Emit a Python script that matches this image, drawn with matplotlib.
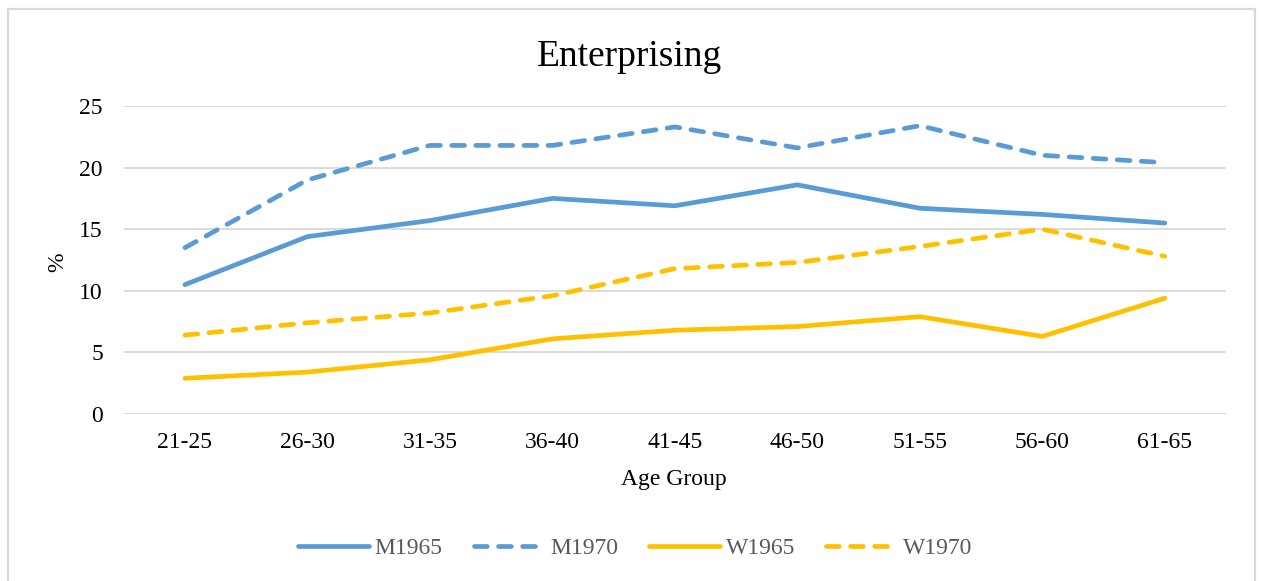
import matplotlib
matplotlib.use("Agg")
import matplotlib.pyplot as plt
from matplotlib.patches import Rectangle

# Share of people with an "Enterprising" profile, by age group
age_groups = ["21-25", "26-30", "31-35", "36-40", "41-45", "46-50", "51-55", "56-60", "61-65"]
m1965 = [10.5, 14.4, 15.7, 17.5, 16.9, 18.6, 16.7, 16.2, 15.5]
m1970 = [13.5, 19.0, 21.8, 21.8, 23.3, 21.6, 23.4, 21.0, 20.4]
w1965 = [2.9, 3.4, 4.4, 6.1, 6.8, 7.1, 7.9, 6.3, 9.4]
w1970 = [6.4, 7.4, 8.2, 9.6, 11.8, 12.3, 13.6, 15.0, 12.8]
y_ticks = [0, 5, 10, 15, 20, 25]

BLUE = "#5B9BD5"
GOLD = "#FFC000"
GRID = "#D9D9D9"
TEXT = "#000000"
LEGEND_TEXT = "#595959"

plt.rcParams["font.family"] = ["Liberation Serif", "DejaVu Serif"]

W, H = 1261, 581
fig = plt.figure(figsize=(W / 100, H / 100), dpi=100)
fig.patch.set_facecolor("white")

# chart frame
fig.patches.append(Rectangle((7.5 / W, -0.05), (1255 - 7.5) / W, 1.05 - 9.5 / H,
                             transform=fig.transFigure, fill=False,
                             edgecolor=GRID, linewidth=1.6, zorder=0))

left, right = 123.75 / W, 1226 / W
bottom, top = (H - 414) / H, (H - 106) / H
ax = fig.add_axes([left, bottom, right - left, top - bottom])

x = list(range(len(age_groups)))
lw = 3.4
dash = (2.7, 2.4)
ax.plot(x, m1965, color=BLUE, lw=lw, solid_capstyle="round", solid_joinstyle="round", label="M1965")
ax.plot(x, m1970, color=BLUE, lw=lw, dashes=dash, dash_capstyle="round", dash_joinstyle="round", label="M1970")
ax.plot(x, w1965, color=GOLD, lw=lw, solid_capstyle="round", solid_joinstyle="round", label="W1965")
ax.plot(x, w1970, color=GOLD, lw=lw, dashes=dash, dash_capstyle="round", dash_joinstyle="round", label="W1970")

ax.set_xlim(-0.5, len(age_groups) - 0.5)
ax.set_ylim(0, 25)
ax.set_yticks(y_ticks)
ax.set_xticks(x)
ax.set_xticklabels(age_groups)
ax.tick_params(axis="both", length=0, labelsize=17, colors=TEXT)
ax.tick_params(axis="x", pad=13)
ax.tick_params(axis="y", pad=15)
ax.grid(axis="y", color=GRID, linewidth=1.3)
ax.set_axisbelow(True)
for s in ax.spines.values():
    s.set_visible(False)

fig.text(630 / W, 1 - 66 / H, "Enterprising", ha="center", va="baseline",
         fontsize=27, color=TEXT)
fig.text(674 / W, 1 - 480 / H, "Age Group", ha="center", va="center",
         fontsize=17, color=TEXT)
fig.text(58 / W, 1 - 262 / H, "%", ha="center", va="center", rotation=90,
         fontsize=17, color=TEXT)

leg = fig.legend(loc="center", bbox_to_anchor=(635 / W, 1 - 548 / H), ncol=4,
                 frameon=False, fontsize=17, handlelength=3.0, handletextpad=0.25,
                 columnspacing=1.3, borderaxespad=0)
for t in leg.get_texts():
    t.set_color(LEGEND_TEXT)

fig.savefig("out.png", dpi=100, facecolor="white")
